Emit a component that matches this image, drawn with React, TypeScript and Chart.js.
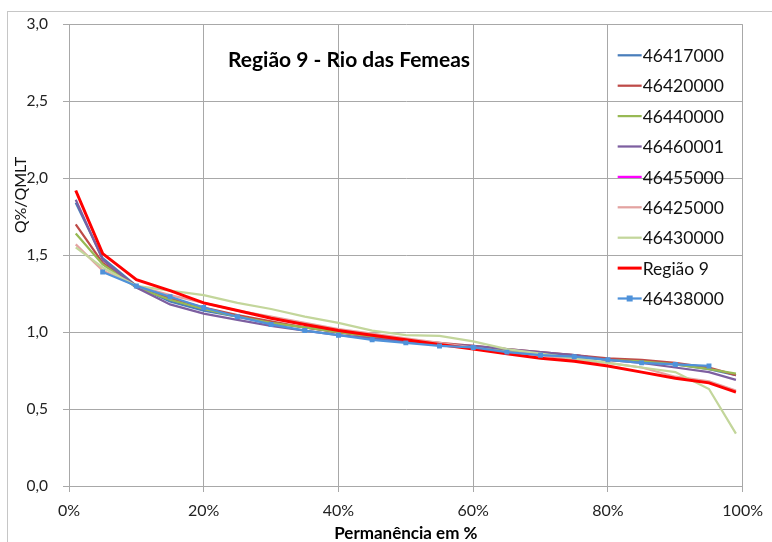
import React, { useEffect, useRef } from 'react';
import { Chart, registerables } from 'chart.js';

Chart.register(...registerables);

// ---- data ----
const permanencia = [1, 5, 10, 15, 20, 25, 30, 35, 40, 45, 50, 55, 60, 65, 70, 75, 80, 85, 90, 95, 99];

const s46417000 = [1.84, 1.48, 1.30, 1.20, 1.14, 1.10, 1.06, 1.03, 1.00, 0.97, 0.94, 0.92, 0.90, 0.88, 0.86, 0.85, 0.82, 0.81, 0.79, 0.76, 0.72];
const s46420000 = [1.70, 1.45, 1.30, 1.22, 1.16, 1.11, 1.07, 1.03, 1.00, 0.97, 0.95, 0.93, 0.91, 0.89, 0.87, 0.85, 0.83, 0.82, 0.80, 0.77, 0.72];
const s46440000 = [1.64, 1.44, 1.29, 1.21, 1.15, 1.10, 1.06, 1.03, 1.00, 0.97, 0.94, 0.92, 0.90, 0.88, 0.86, 0.84, 0.82, 0.81, 0.79, 0.76, 0.73];
const s46460001 = [1.86, 1.47, 1.29, 1.18, 1.12, 1.08, 1.04, 1.01, 0.98, 0.96, 0.94, 0.92, 0.91, 0.89, 0.87, 0.85, 0.82, 0.80, 0.77, 0.74, 0.69];
const s46455000: (number | null)[] = [null, null, null, null, null, null, null, null, null, null, null, null, null, null, null, null, null, null, null, null, null];
const s46425000 = [1.57, 1.40, 1.30, 1.24, 1.19, 1.14, 1.10, 1.06, 1.02, 0.99, 0.96, 0.93, 0.90, 0.87, 0.85, 0.82, 0.80, 0.77, 0.71, 0.68, 0.62];
const s46430000 = [1.55, 1.42, 1.30, 1.27, 1.24, 1.19, 1.15, 1.10, 1.06, 1.01, 0.98, 0.975, 0.94, 0.89, 0.86, 0.83, 0.80, 0.77, 0.74, 0.63, 0.34];
const regiao9 = [1.92, 1.51, 1.34, 1.27, 1.19, 1.14, 1.09, 1.05, 1.01, 0.98, 0.95, 0.92, 0.89, 0.86, 0.83, 0.81, 0.78, 0.74, 0.70, 0.67, 0.61];
const s46438000: (number | null)[] = [null, 1.39, 1.30, 1.23, 1.16, 1.10, 1.05, 1.01, 0.98, 0.95, 0.93, 0.91, 0.90, 0.87, 0.85, 0.84, 0.82, 0.80, 0.79, 0.78, null];

const seriesNames = ['46417000', '46420000', '46440000', '46460001', '46455000', '46425000', '46430000', 'Região 9', '46438000'];
const seriesValues = [s46417000, s46420000, s46440000, s46460001, s46455000, s46425000, s46430000, regiao9, s46438000];
const seriesColors = ['#4A7EBB', '#BE4B48', '#98B954', '#7D5FA0', '#FF00FF', '#E3A3A1', '#C3D69B', '#FF0000', '#4F92DA'];
const seriesWidths = [2.25, 2.25, 2.25, 2.25, 2.25, 2.25, 2.25, 3, 2.25];
const seriesMarkers = [false, false, false, false, false, false, false, false, true];

const chartTitle = 'Região 9 - Rio das Femeas';
const xTitle = 'Permanência em %';
const yTitle = 'Q%/QMLT';

const FONT = 'Lato, "Open Sans", sans-serif';

const overlayPlugin = {
  id: 'overlay',
  afterDatasetsDraw(chart: any) {
    const { ctx, chartArea } = chart;
    ctx.save();
    ctx.fillStyle = '#000';
    // title
    ctx.font = `bold 21px ${FONT}`;
    ctx.textAlign = 'center';
    ctx.textBaseline = 'middle';
    ctx.fillText(chartTitle, chartArea.left + 280, chartArea.top + 36);
    // x title
    ctx.font = `bold 17px ${FONT}`;
    ctx.fillText(xTitle, (chartArea.left + chartArea.right) / 2, 534);
    // y title
    ctx.save();
    ctx.translate(21, 195);
    ctx.rotate(-Math.PI / 2);
    ctx.font = `16px ${FONT}`;
    ctx.fillStyle = '#111';
    ctx.fillText(yTitle, 0, 0);
    ctx.restore();
    // legend
    ctx.font = `17.5px ${FONT}`;
    ctx.textAlign = 'left';
    const lx = chartArea.right - 125;
    const ly0 = chartArea.top + 31;
    const step = 30.4;
    seriesNames.forEach((name, i) => {
      const y = ly0 + i * step;
      ctx.strokeStyle = seriesColors[i];
      ctx.lineWidth = seriesWidths[i];
      ctx.beginPath();
      ctx.moveTo(lx, y);
      ctx.lineTo(lx + 24, y);
      ctx.stroke();
      if (seriesMarkers[i]) {
        ctx.fillStyle = seriesColors[i];
        ctx.fillRect(lx + 12 - 3, y - 3, 6, 6);
      }
      ctx.fillStyle = '#111';
      ctx.fillText(name, lx + 25, y + 1);
    });
    ctx.restore();
  },
};

export default function App() {
  const canvasRef = useRef<HTMLCanvasElement | null>(null);

  useEffect(() => {
    const canvas = canvasRef.current;
    if (!canvas) return;
    const datasets = seriesNames.map((name, i) => ({
      label: name,
      data: permanencia.map((p, j) => ({ x: p, y: seriesValues[i][j] })),
      borderColor: seriesColors[i],
      backgroundColor: seriesColors[i],
      borderWidth: seriesWidths[i],
      pointRadius: seriesMarkers[i] ? 3.5 : 0,
      pointStyle: 'rect',
      pointBorderWidth: 0,
      tension: 0,
      fill: false,
      spanGaps: false,
      order: seriesNames.length - i,
    }));
    const chart = new Chart(canvas, {
      type: 'line',
      data: { datasets },
      options: {
        responsive: false,
        animation: false,
        devicePixelRatio: 1,
        layout: { padding: { left: 0, top: 22, right: 29, bottom: 0 } },
        plugins: { legend: { display: false }, title: { display: false }, tooltip: { enabled: false } },
        scales: {
          x: {
            type: 'linear',
            min: 0,
            max: 100,
            afterFit: (s: any) => { s.height = 56; },
            ticks: {
              stepSize: 20,
              callback: (v: any) => `${v}%`,
              font: { family: FONT, size: 16 },
              color: '#222',
              padding: 9,
              maxRotation: 0,
            },
            grid: { color: '#A8A8A8', lineWidth: 1, tickLength: 6 },
            border: { color: '#A8A8A8' },
          },
          y: {
            type: 'linear',
            min: 0,
            max: 3,
            afterFit: (s: any) => { s.width = 69; },
            ticks: {
              stepSize: 0.5,
              callback: (v: any) => Number(v).toFixed(1).replace('.', ','),
              font: { family: FONT, size: 15.5 },
              color: '#222',
              padding: 15,
            },
            grid: { color: '#A8A8A8', lineWidth: 1, tickLength: 6 },
            border: { color: '#A8A8A8' },
          },
        },
      },
      plugins: [overlayPlugin],
    } as any);
    return () => chart.destroy();
  }, []);

  return (
    <div style={{ position: 'absolute', left: 0, top: 0, width: 772, height: 542, overflow: 'hidden', background: '#fff' }}>
      <div style={{ position: 'absolute', left: 7, top: 11, width: 820, height: 600, border: '1px solid #C6C6C6' }} />
      <canvas ref={canvasRef} width={772} height={542} style={{ position: 'absolute', left: 0, top: 0 }} />
    </div>
  );
}
